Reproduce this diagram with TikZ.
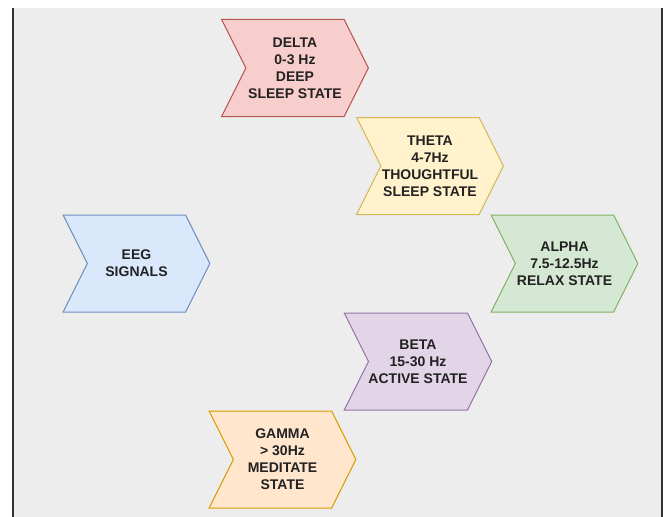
\documentclass[tikz,border=0pt]{standalone}
\usepackage{fontspec}
\setmainfont{Liberation Sans}
\usetikzlibrary{shapes.symbols}
\definecolor{PanelGray}{HTML}{EDEDED}
\definecolor{FrameDark}{HTML}{333333}
\definecolor{InkDark}{HTML}{222222}
\definecolor{RedFill}{HTML}{F8CECC}   \definecolor{RedLine}{HTML}{B85450}
\definecolor{YelFill}{HTML}{FFF2CC}   \definecolor{YelLine}{HTML}{D6B656}
\definecolor{BluFill}{HTML}{DAE8FC}   \definecolor{BluLine}{HTML}{6C8EBF}
\definecolor{GrnFill}{HTML}{D5E8D4}   \definecolor{GrnLine}{HTML}{82B366}
\definecolor{PurFill}{HTML}{E1D5E7}   \definecolor{PurLine}{HTML}{9673A6}
\definecolor{OrgFill}{HTML}{FFE6CC}   \definecolor{OrgLine}{HTML}{D79B00}
\begin{document}
\begin{tikzpicture}[x=0.75pt, y=-0.75pt,
  band/.style={signal, signal to=east, signal from=west,
     signal pointer angle=127, line width=0.75pt,
     minimum width=110pt, minimum height=72.75pt, inner sep=0pt,
     align=center, text=InkDark,
     font=\fontsize{10.5}{12.75}\selectfont\bfseries},
  redband/.style={band, draw=RedLine, fill=RedFill},
  yelband/.style={band, draw=YelLine, fill=YelFill},
  bluband/.style={band, draw=BluLine, fill=BluFill},
  grnband/.style={band, draw=GrnLine, fill=GrnFill},
  purband/.style={band, draw=PurLine, fill=PurFill},
  orgband/.style={band, draw=OrgLine, fill=OrgFill}]
  \useasboundingbox (0,0) rectangle (664,517);
  % panel
  \fill[PanelGray] (13,8) rectangle (662,517);
  \draw[FrameDark, line width=1.5pt] (13,8) -- (13,517);
  \draw[FrameDark, line width=1.5pt] (662,8) -- (662,517);
  % bands
  \node[bluband] (eeg) at (136.5,263.5) {EEG\\SIGNALS};
  \node[redband] (delta) at (295,68) {DELTA\\0-3 Hz\\DEEP\\SLEEP STATE};
  \node[yelband] (theta) at (430,166) {THETA\\4-7Hz\\THOUGHTFUL\\SLEEP STATE};
  \node[grnband] (alpha) at (564.5,263.5) {ALPHA\\7.5-12.5Hz\\RELAX STATE};
  \node[purband] (beta) at (418,361.5) {BETA\\15-30 Hz\\ACTIVE STATE};
  \node[orgband] (gamma) at (282.5,459.5) {GAMMA\\> 30Hz\\MEDITATE\\STATE};
\end{tikzpicture}
\end{document}
